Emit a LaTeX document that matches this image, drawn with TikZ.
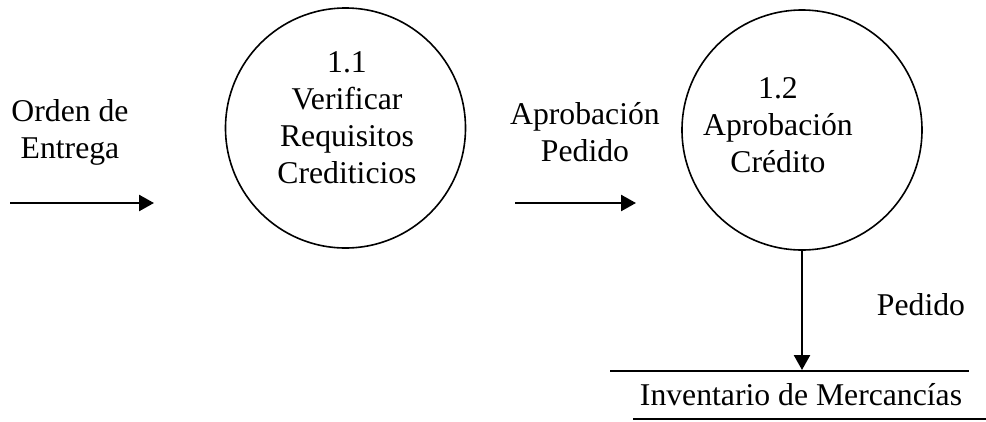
\documentclass[tikz,border=0pt]{standalone}
\usepackage{fontspec}
\setmainfont{Liberation Serif}
\usetikzlibrary{arrows.meta}
\tikzset{
  proc/.style={circle, draw, line width=1.6pt, minimum size=240pt, inner sep=0pt},
  lbl/.style={align=center, inner sep=0pt, font=\fontsize{31.7}{37}\selectfont},
  flow/.style={line width=2.5pt, -{Triangle[length=15pt,width=16pt]}},
  storeline/.style={line width=1.6pt}
}
\begin{document}
\begin{tikzpicture}[x=1pt,y=-1pt]
\useasboundingbox (0,0) rectangle (986,421);
% processes
\node[proc] (p1) at (345.5,128) {};
\node[proc] (p2) at (802,130) {};
\node[lbl] (t1) at (347,118) {1.1\\Verificar\\Requisitos\\Crediticios};
\node[lbl] (t2) at (778,125) {1.2\\Aprobación\\Crédito};
% flow labels
\node[lbl] (l1) at (70,132) {Orden de\\Entrega};
\node[lbl] (l2) at (585,132) {Aprobación\\Pedido};
\node[lbl] (l3) at (921,305) {Pedido};
% flows
\coordinate (a1s) at (10,203);
\coordinate (a1e) at (154,203);
\coordinate (a2s) at (515,203);
\coordinate (a2e) at (636,203);
\draw[flow] (a1s) -- (a1e);
\draw[flow] (a2s) -- (a2e);
% data store
\node[lbl] (store) at (801,395) {Inventario de Mercancías};
\coordinate (sTopL) at (610,371);
\coordinate (sTopR) at (969,371);
\coordinate (sBotL) at (633,419);
\coordinate (sBotR) at (986,419);
\coordinate (sIn) at (802,370);
\draw[storeline] (sTopL) -- (sTopR);
\draw[storeline] (sBotL) -- (sBotR);
\draw[flow] (p2.south) -- (sIn);
\end{tikzpicture}
\end{document}
